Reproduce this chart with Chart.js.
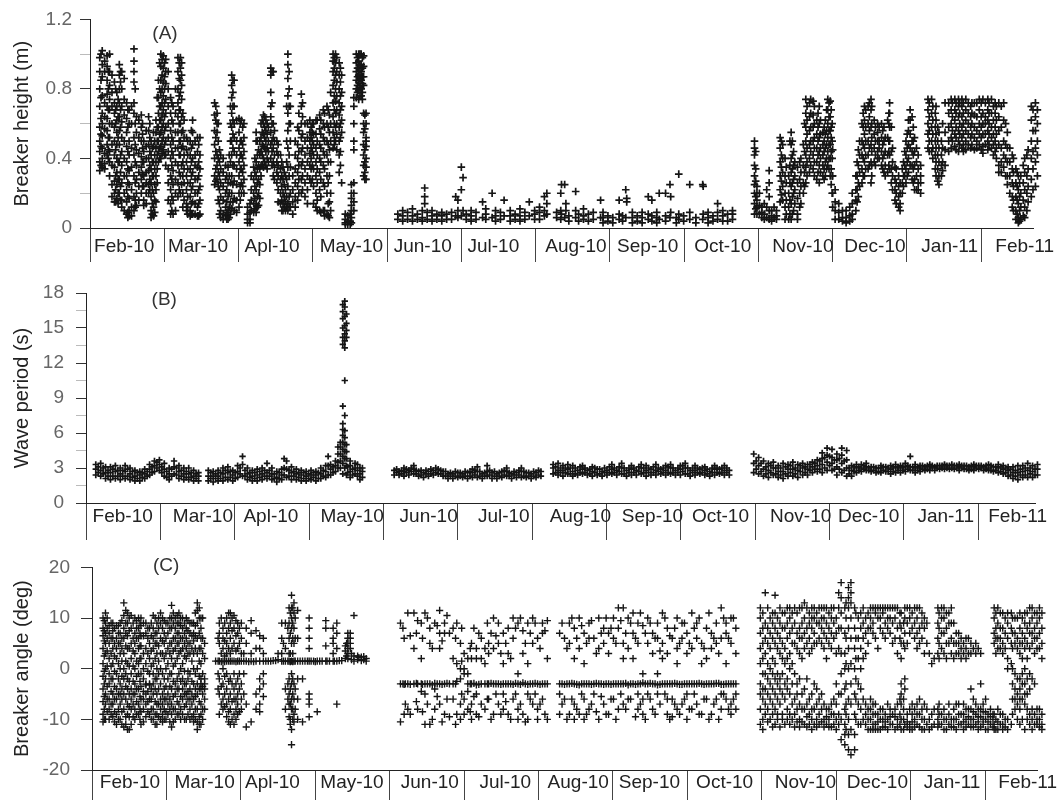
<!DOCTYPE html>
<html lang="en">
<head>
<meta charset="UTF-8">
<title>Breaker height, wave period and breaker angle</title>
<script src="https://cdn.jsdelivr.net/npm/chart.js"></script>
<style>
  body { margin: 0; background: #fff; }
  canvas { position: absolute; left: 0; }
</style>
</head>
<body>
<canvas id="panelA" width="1058" height="262" style="top:0px"></canvas>
<canvas id="panelB" width="1058" height="276" style="top:264px"></canvas>
<canvas id="panelC" width="1058" height="255" style="top:545px"></canvas>
<script>
// x values are days since the start of Feb-10, each row is [day, reading, reading, ...]
const monthLabels = ['Feb-10','Mar-10','Apl-10','May-10','Jun-10','Jul-10','Aug-10','Sep-10','Oct-10','Nov-10','Dec-10','Jan-11','Feb-11'];
const monthTicks = [0,30.4,60.8,91.2,121.6,152,182.4,212.8,243.2,273.6,304,334.4,364.8];
const labelDaysA = [14,44.2,74.5,107,136.2,165.1,198.9,228.3,259,291.8,321.3,351.9,382.6];
const labelDaysB = [15,47.8,75.6,108.8,140.1,170.8,202.1,231.6,259.4,292.2,320,351.5,380.9];
const labelDaysC = [15.5,46,73.7,106.2,138,168.8,198.6,227.7,258.4,291.4,320.8,351.3,382.2];

const heightTicks = [0,.2,.4,.6,.8,1,1.2];
const heightTickLabels = ['0','','0.4','','0.8','','1.2'];
const periodTicks = [0,1.5,3,4.5,6,7.5,9,10.5,12,13.5,15,16.5,18];
const periodTickLabels = ['0','','3','','6','','9','','12','','15','','18'];
const angleTicks = [-20,-10,0,10,20];
const angleTickLabels = ['-20','-10','0','10','20'];

const heightFebMay = [
[4,.98,.9,.8,.7,.58,.5,.44,.38,.33],[5,1.02,.94,.87,.76,.66,.6,.53,.46,.4,.35],[7,.99,.93,.85,.77,.7,.63,.56,.48,.42],
[8,1,.9,.82,.74,.68,.6,.52,.44,.38,.3],[10,.84,.72,.66,.58,.5,.42,.35,.27,.2,.15],[11,.78,.7,.62,.55,.48,.4,.32,.25,.17],
[12,.94,.88,.8,.72,.64,.56,.48,.38,.28,.2],[13,.9,.8,.7,.61,.52,.44,.36,.26,.16,.12],[15,.72,.63,.55,.47,.38,.3,.22,.15,.08],
[16,.68,.6,.5,.42,.33,.25,.17,.1,.07],[18,1.03,.96,.9,.84,.72,.66,.52,.42,.3,.18,.1],[19,.64,.55,.45,.36,.28,.2,.13],
[21,.65,.58,.5,.41,.35,.28,.2],[22,.5,.44,.38,.3,.24,.16,.13],[24,.64,.56,.48,.4,.33,.25,.2],[25,.5,.42,.34,.26,.18,.1,.06],
[26,.55,.47,.38,.3,.2,.12,.07],[27,.62,.55,.46,.38,.3,.22,.15],[28,.85,.75,.66,.58,.5,.44,.38],[29,1,.93,.85,.78,.7,.62,.55,.47,.4],
[30,.99,.92,.84,.76,.68,.6,.52,.45],[31,.97,.9,.83,.74,.66,.58,.5,.42,.36],[33,.75,.66,.56,.48,.4,.3,.22,.14,.08],
[34,.7,.6,.5,.42,.33,.25,.16,.08],[36,.98,.9,.8,.72,.64,.55,.46,.36,.26,.18],[37,.98,.92,.85,.78,.68,.6,.5,.42,.3,.2],
[38,.66,.56,.47,.38,.3,.2,.12],[39.5,.52,.45,.38,.3,.22,.14,.1],[41,.5,.42,.34,.26,.18,.1,.07],[42,.62,.55,.48,.4,.32,.24,.15,.08],
[44,.52,.44,.35,.28,.2,.12,.07],[45,.52,.42,.34,.24,.16,.08],
[51,.72,.65,.56,.48,.4,.3,.25],[52,.66,.6,.55,.42,.36,.28],[53,.45,.38,.3,.22,.14,.08],[54.5,.4,.32,.24,.16,.08,.05],
[56,.3,.22,.15,.09,.05],[57,.42,.3,.2,.12,.06],[58,.88,.82,.75,.66,.58,.5,.42,.3,.2,.11],[59,.85,.7,.6,.52,.44,.36,.27,.17,.1],
[61,.63,.55,.46,.38,.3,.2,.12],[62,.62,.5,.42,.34,.26,.2],[63,.6,.52,.44,.36,.28,.2],[64.5,.12,.08,.05,.03],[65.5,.14,.09,.05,.03],
[67,.35,.28,.2,.14,.09],[68,.55,.5,.38,.3,.22,.14,.09],[69,.45,.36,.28,.2,.13],[70,.6,.52,.44,.36,.3],[71,.65,.6,.54,.47,.4,.35],
[72,.62,.56,.5,.44,.36],[73,.58,.5,.44,.38],[74,.92,.88,.78,.7,.64,.55,.48,.4],[75,.9,.6,.52,.46,.38,.3],[76.5,.5,.44,.38,.32,.26],
[78,.42,.34,.28,.2,.14],[79,.35,.28,.2,.14,.1],[80,.3,.22,.15,.1],[81,1,.94,.86,.76,.66,.56,.46,.35,.24,.14,.1],[82,.7,.6,.5,.35,.2,.12],
[83,.3,.22,.15,.08],[85,.58,.48,.4,.32,.24,.16],[86.5,.77,.7,.6,.52,.44,.36,.28,.2],[88,.6,.5,.42,.34,.26,.18],[90,.62,.55,.5,.43,.36,.28],
[91,.6,.55,.5,.44,.36,.28],[92.5,.62,.54,.46,.38,.3,.2,.12],[94,.65,.57,.48,.4,.32,.22,.1],[95.5,.68,.6,.52,.44,.36,.26,.1],
[97,.7,.6,.5,.42,.3,.2,.08],[98,.65,.55,.45,.3,.15,.06],[99.5,1,.96,.9,.82,.72,.64,.55,.46],[100.5,1,.95,.88,.8,.73,.66,.58,.5],
[102,.95,.88,.8,.72,.65,.58,.5,.42,.32],[103,.88,.78,.7,.62,.55,.26],[104.5,.08,.05,.03,.02],[105.5,.07,.04,.02],[106.5,.08,.04,.02],
[107,.25,.2,.17,.13,.1,.06,.03],[108,.75,.7,.6,.5,.45,.26,.2,.15,.1],[109,1,.95,.9,.85,.8,.75],[110,1,.96,.92,.88,.84,.79,.74],
[111,1,.94,.9,.85,.8,.76],[112,.99,.93,.87,.82,.66,.6,.55,.48,.42,.36,.3],[113,.66,.6,.52,.5,.47,.4,.35,.28]
];
const heightFebMayExtra = [
[4.5,1,.85,.75,.63,.54,.47,.36],[6,.96,.9,.72,.64,.57,.43,.37,.34],[7.5,.9,.8,.68,.52,.45,.4],[9,.88,.78,.7,.6,.48,.36,.25,.18],[10.5,.8,.68,.6,.45,.3,.22,.15],
[11.5,.74,.64,.52,.38,.28,.2,.14],[12.5,.9,.84,.68,.58,.42,.32,.24,.16],[14,.86,.74,.65,.5,.4,.3,.2,.1],[15.5,.68,.58,.44,.34,.26,.18,.09,.06],[17,.7,.6,.46,.35,.22,.12,.07],
[18.5,.8,.6,.48,.38,.26,.16,.12],[20,.62,.52,.43,.32,.24,.16],[21.5,.6,.54,.46,.38,.31,.24],[23,.56,.47,.4,.32,.26,.2,.14],[24.5,.6,.52,.44,.36,.28,.22],[25.5,.46,.38,.3,.22,.14,.08],
[26.5,.5,.42,.34,.25,.16,.09],[27.5,.75,.58,.5,.42,.34,.26],[28.5,.95,.8,.7,.62,.54,.46,.4],[29.5,.97,.88,.8,.72,.65,.58,.5,.43],[30.5,.95,.87,.8,.72,.64,.56,.48,.42],
[32,.9,.8,.7,.6,.52,.44,.34,.26,.16],[33.5,.72,.62,.52,.44,.36,.28,.18,.1],[35,.8,.66,.55,.46,.38,.28,.2,.1],[36.5,.95,.86,.76,.68,.6,.5,.42,.32,.22],[37.5,.95,.88,.82,.74,.64,.55,.46,.36,.25],
[38.5,.62,.52,.42,.34,.26,.16],[40,.5,.42,.34,.26,.18,.12,.08],[41.5,.56,.46,.38,.3,.22,.14,.08],[43,.5,.42,.36,.28,.2,.14,.08],[44.5,.48,.38,.3,.22,.14,.07],
[51.5,.7,.62,.52,.44,.34,.27],[52.5,.6,.5,.4,.32,.24,.16],[53.5,.42,.34,.26,.18,.1,.06],[55.5,.36,.28,.2,.12,.07],[56.5,.35,.26,.18,.1,.05],[57.5,.7,.6,.5,.38,.26,.15,.08],
[58.5,.85,.78,.7,.62,.54,.46,.36,.25,.15],[60,.62,.5,.42,.34,.25,.16,.09],[61.5,.6,.5,.42,.34,.24,.16],[62.5,.58,.48,.4,.32,.24],[66,.3,.22,.16,.1],[67.5,.4,.32,.24,.17,.11],
[68.5,.5,.42,.34,.26,.18,.12],[69.5,.5,.42,.34,.25,.17],[70.5,.62,.55,.48,.42,.36],[71.5,.64,.58,.52,.46,.38],[72.5,.6,.54,.46,.4,.34],[74.5,.9,.72,.6,.5,.44,.36],[75.5,.56,.5,.42,.35,.28],
[77,.48,.42,.36,.3,.22,.15],[78.5,.38,.3,.24,.16,.1],[79.5,.32,.25,.18,.12],[80.5,.7,.5,.38,.28,.18,.12],[81.5,.9,.8,.7,.6,.42,.3,.18,.12],[84,.5,.42,.34,.26,.18,.12],[85.5,.66,.56,.44,.36,.28,.2],
[87,.72,.64,.54,.46,.38,.3,.22],[89,.6,.52,.46,.38,.3,.22,.14],[90.5,.58,.52,.46,.4,.34,.26],[91.5,.6,.54,.48,.42,.34,.24,.14],[93,.62,.5,.42,.34,.26,.16,.1],[94.5,.62,.54,.46,.38,.28,.18,.09],
[96,.66,.58,.5,.42,.34,.24,.1,.07],[97.5,.68,.58,.48,.38,.26,.14,.07],[98.5,.78,.6,.5,.38,.2,.1],[100,.98,.92,.85,.76,.68,.6,.52,.48],[101,.98,.9,.84,.76,.68,.6,.54,.45],[102.5,.92,.84,.76,.68,.6,.52,.44,.36],
[109.5,.98,.92,.87,.82,.78],[110.5,1,.94,.9,.86,.81,.76],[111.5,.98,.92,.87,.83,.78,.74],[112.5,.65,.57,.45,.38,.32,.28]
];
const heightJunOct = [
[126,.05,.08],[128,.04,.07,.1],[130,.05,.09],[132,.04,.07,.11],[134,.05,.08],[136,.04,.06,.1],[137,.23,.18,.14],[138,.05,.09],[140,.04,.07,.1],
[142,.05,.08],[144,.04,.07,.09],[146,.05,.08],[148,.05,.09],[149.7,.18,.07],[150.6,.16,.06,.1],[152,.35,.22,.07],[152.7,.29,.1],[154,.05,.08],
[156,.04,.07,.1],[158,.05,.09],[160.7,.15,.06],[162,.05,.08,.11],[164.6,.2,.06],[166,.04,.07,.1],[168,.05,.09],[169.5,.16,.07],[172,.04,.07,.1],
[174,.05,.08],[176,.04,.07,.11],[178,.05,.09],[179.8,.15,.07],[182,.05,.08,.1],[184,.05,.09,.12],[186,.18,.1,.07],[187,.2,.14,.08],
[191,.06,.09],[192.7,.2,.05,.1],[193,.25,.08],[194.3,.25,.06],[194.8,.14,.1],[196,.04,.07],[198.8,.21,.06,.1],[200,.04,.08],[202,.05,.07,.11],
[204,.04,.08],[206,.05,.09],[209,.16,.06],[210,.03,.06,.09],[212,.04,.07],[214,.03,.06],[216.6,.16,.05,.08],[218,.04,.07],[219.3,.22,.06],[219.7,.17,.15],
[222,.03,.06,.09],[224,.04,.07],[226,.03,.06,.09],[228.5,.18,.05,.08],[230,.16,.04,.07],[232,.03,.06,.09],[233,.2,.05],[235.6,.2,.04,.07],
[237.4,.25,.06],[237.7,.18,.09],[240,.03,.06],[241,.31,.05,.08],[243,.04,.07],[245.5,.25,.05,.09],[248,.03,.06],[250.8,.25,.05],[251,.24,.08],
[253,.03,.06,.09],[255,.04,.07],[256.9,.14,.05,.09],[259,.04,.07,.1],[261,.04,.08],[263,.05,.08,.1]
];
const heightNovFeb = [
[272,.5,.46,.42,.36,.3,.25,.2,.14,.08],[273,.24,.2,.16,.12,.08],[275,.12,.09,.06],[276,.14,.08,.05],[277,.22,.12,.06],[278,.33,.26,.18,.1,.05],
[279,.1,.07,.04],[281,.1,.07,.05],[282.5,.52,.46,.38,.3,.22,.15],[283.5,.48,.4,.32,.24,.16],[284.5,.4,.3,.2,.12,.05],[286,.3,.2,.12,.05],
[287,.55,.48,.4,.32,.24,.14,.05],[288,.44,.36,.28,.2,.1],[289.6,.35,.26,.17,.08,.05],[291,.4,.32,.24,.14],[292,.48,.36,.26,.2],[293,.74,.66,.58,.5,.42,.35,.26],
[294.5,.72,.64,.56,.48,.4,.32],[296,.73,.65,.58,.5,.42,.34],[297.5,.62,.54,.46,.38,.28],[298.5,.7,.6,.52,.44,.36,.26],[300,.55,.48,.42,.36,.3],
[301,.62,.54,.46,.38,.3],[302,.74,.68,.6,.52,.44,.36],[303,.73,.64,.56,.48,.4,.3],[303.8,.6,.5,.4,.3,.2],[305,.22,.15,.1,.05],[306.5,.14,.09,.05],
[308,.1,.06,.04],[309.5,.1,.06,.03],[311,.12,.07,.04],[312,.2,.14,.08,.05],[313.5,.3,.22,.16,.1],[314.5,.45,.36,.26,.18],[316,.6,.5,.42,.34,.26],
[317,.7,.62,.54,.46,.38,.3],[318.5,.7,.6,.5,.42,.34],[319.7,.74,.68,.58,.48,.38,.26],[321,.62,.54,.46,.38],[322.4,.6,.55,.5,.44,.4],[324,.6,.52,.44,.36],
[325,.58,.5,.42,.32],[326.5,.62,.52,.42,.32],[327.3,.72,.66,.58,.5,.42,.34],[328.5,.46,.38,.3,.22],[329.5,.35,.28,.22,.16],[331,.3,.24,.18,.12],
[331.6,.26,.2,.14,.1],[333,.38,.3,.24],[334,.5,.42,.34,.26],[335.7,.68,.62,.54,.46,.36],[337,.58,.5,.42,.34,.26],[338.3,.46,.38,.3,.22],[340,.36,.3,.26,.2],
[343,.74,.68,.6,.54,.46],[344.5,.74,.66,.58,.5,.44],[346.3,.7,.62,.54,.46,.38,.3],[347.5,.55,.46,.38,.3,.25],[348.5,.5,.42,.36,.3],[350,.72,.55,.45,.36],
[352.5,.74,.68,.6,.52,.46],[354,.74,.68,.62,.54,.47],[355.5,.74,.7,.64,.56,.5,.44],[356.9,.74,.7,.64,.58,.52,.46],[358.5,.74,.68,.62,.56,.5,.45],
[360.5,.7,.64,.58,.52,.46],[362,.72,.65,.58,.52,.45],[364,.74,.68,.6,.54,.48],[365.5,.74,.66,.6,.54,.47,.43],[367.5,.74,.68,.62,.56,.5,.45],
[369,.74,.66,.58,.52,.46],[370.5,.72,.66,.58,.5,.44],[372,.72,.64,.56,.48,.36,.32],[374,.72,.62,.5,.42,.35],[375.5,.55,.46,.38,.3,.25],[376.5,.46,.38,.3,.2],
[378,.4,.32,.24,.16,.1],[379,.34,.26,.18,.1,.05],[380,.3,.22,.14,.06,.03],[381,.3,.2,.12,.05],[382.6,.4,.32,.22,.12,.06],[384,.45,.34,.24,.15],
[385.3,.7,.62,.5,.4,.28,.18],[387,.72,.64,.56,.46,.38,.24],[388.5,.7,.62,.54,.46],[389.7,.72,.68,.6,.5,.4]
];
const heightNovFebExtra = [
[272.5,.44,.34,.27,.18,.11],[274,.2,.13,.08],[280,.12,.06],[283,.5,.42,.35,.27,.19],[285,.35,.26,.16,.08],[286.5,.5,.36,.26,.16,.08],[287.5,.5,.42,.34,.26,.18,.08],[288.5,.38,.3,.22,.14],
[290.5,.38,.28,.2,.12],[292.5,.6,.44,.32,.24],[293.5,.7,.62,.54,.46,.38,.3],[295,.74,.66,.58,.5,.44,.36],[296.5,.7,.6,.52,.46,.38,.3],[298,.66,.58,.5,.42,.32],[299,.62,.54,.46,.4,.32],
[300.5,.58,.5,.44,.34,.28],[301.5,.68,.56,.48,.4,.34],[302.5,.72,.64,.56,.48,.4,.34],[303.4,.68,.58,.52,.44,.34,.25],[304,.45,.3,.2,.12],[314,.38,.3,.22,.15],[315,.5,.42,.32,.24],
[316.5,.66,.58,.48,.4,.3],[317.5,.68,.58,.5,.42,.34],[319,.72,.64,.56,.46,.36],[320,.7,.6,.52,.44,.36,.3],[321.5,.58,.5,.42,.36],[323,.58,.5,.46,.4],[324.5,.56,.48,.4,.34],[325.5,.52,.44,.36,.3],
[327,.66,.6,.5,.44,.36],[328,.58,.44,.34,.26],[330,.34,.26,.2,.14],[332.5,.34,.26,.2],[333.5,.44,.36,.3],[334.5,.54,.46,.38,.3],[335,.62,.56,.48,.4,.32],[336.5,.64,.5,.44,.36,.28],[337.5,.52,.44,.36,.28,.22],
[339,.42,.34,.26,.22],[343.5,.72,.64,.56,.5,.44],[345,.7,.62,.54,.46,.4],[346,.66,.58,.5,.42,.34],[347,.58,.5,.42,.34,.27],[349,.6,.46,.38,.33],[351.5,.72,.66,.58,.5,.44],[353,.72,.64,.56,.5],
[354.5,.72,.66,.58,.52,.45],[356,.72,.66,.6,.54,.48],[357.5,.72,.66,.6,.54,.48,.44],[359.5,.72,.66,.6,.54,.48],[361,.72,.66,.6,.54,.48],[363,.72,.64,.56,.5,.46],[364.8,.72,.64,.58,.52,.45],
[366.5,.72,.64,.6,.54,.48],[368,.72,.66,.6,.54,.48],[369.8,.7,.62,.54,.48,.42],[371,.7,.62,.54,.46,.4],[373,.7,.58,.46,.38,.32],[374.8,.6,.48,.4,.3],[377.5,.42,.34,.26,.18,.12],[379.5,.32,.24,.16,.08],
[380.5,.26,.18,.1,.04],[382,.36,.26,.16,.07],[383.5,.42,.3,.2,.1],[386,.68,.56,.44,.34,.22],[387.8,.68,.6,.5,.42,.3],[389,.7,.64,.56,.48]
];

const periodFebMay = [
[4,2.4,2.9,3.3],[6,2.3,2.8,3.4],[8,2.1,2.6,3.1],[10,2,2.6,3.1],[12,2.1,2.7,3.2],[14,2,2.5,3],[16,2.1,2.7,3.2],[18,2,2.5,3],[20,1.9,2.3,2.8],
[22,1.9,2.4,2.7],[24,2.1,2.5,2.9],[26,2.4,2.9,3.3],[28,2.7,3.2,3.6],[30,2.8,3.3,3.7],[32,2.3,2.9,3.4],[34,2,2.5,3],[36,2.5,3.1,3.6],[38,2.1,2.7,3.2],
[40,2,2.5,3],[42,2,2.5,3],[44,1.9,2.3,2.8],[46,1.9,2.3,2.6],
[50,1.9,2.3,2.8],[52,1.8,2.3,2.7],[54,1.9,2.3,2.8],[56,1.9,2.5,3],[58,2,2.6,3.1],[60,1.9,2.4,2.8],[62,2.2,2.7,3.2],[64,2.3,3.3,4],[66,2,2.5,3],[68,1.9,2.3,2.8],
[70,1.9,2.4,2.9],[72,2,2.5,3],[74,2.1,2.6,3.4],[76,2,2.5,3],[78,1.8,2.2,2.7],[80,2,2.4,2.9],[81,2.4,3,3.8],[82,2.2,2.9,3.6],[84,2,2.6,3.1],[86,2,2.5,2.9],
[88,1.9,2.4,2.8],[90,1.9,2.3,2.7],[92,2,2.4,2.8],[94,1.9,2.4,2.7],[96,2.1,2.5,3],[98,2.2,2.7,3.2],[99,2.4,3.2,4],[100,2.4,2.9,3.3],[102,2.7,3.2,3.6],
[103,3,3.5,4.2,4.8],[104,3,3.6,4.2,4.8,5.2],[105,2.5,3.4,4,4.6,5.2,5.8,6.3,6.8,8.3,13.6,14.2,15,15.8,16.4,17],[105.8,3,3.8,4.4,5,5.6,6.2,7.5,10.5,13.3,13.9,14.5,15.2,16,16.8,17.3],
[106.5,2.4,3.2,3.8,4.4,5,14.2,14.8,15.4,16.2],[108,2.2,2.7,3.2,3.6],[110,2.5,3,3.4],[111,2.3,2.8,3.3],[112,2,2.5,3],[113,2.2,2.7,3]
];
const periodExtra = [
[5,2.6,3.1],[7,2.5,3],[9,2.3,2.8],[11,2.3,2.9],[13,2.3,2.8],[15,2.3,2.8],[17,2.3,2.9],[19,2.2,2.7],[21,2.1,2.6],[23,2.2,2.6],[25,2.3,2.7],[27,2.6,3.1],[29,3,3.5],[31,2.6,3.1],[33,2.2,2.7],[35,2.3,2.9],
[37,2.4,3],[39,2.3,2.8],[41,2.2,2.7],[43,2.2,2.6],[45,2.1,2.5],[51,2.1,2.6],[53,2.1,2.5],[55,2.1,2.6],[57,2.2,2.8],[59,2.2,2.7],[61,2.1,2.6],[63,2.5,3],[65,2.3,2.8],[67,2.2,2.6],[69,2.1,2.6],[71,2.2,2.7],
[73,2.3,2.8],[75,2.3,2.8],[77,2.1,2.5],[79,2.1,2.6],[83,2.3,2.8],[85,2.3,2.7],[87,2.2,2.6],[89,2.1,2.6],[91,2.1,2.5],[93,2.2,2.6],[95,2.1,2.6],[97,2.3,2.8],[101,2.6,3.1],[107,2.6,3.1],[109,2.4,2.9],
[127,2.6,2.9],[129,2.5,2.8],[131,2.6,2.9],[133,2.7,3],[135,2.5,2.8],[137,2.4,2.8],[139,2.5,2.8],[141,2.5,2.9],[143,2.6,3],[145,2.5,2.8],[147,2.3,2.7],[149,2.3,2.6],[151,2.3,2.7],[153,2.3,2.6],[155,2.3,2.7],
[157,2.3,2.7],[159,2.4,2.8],[161,2.3,2.7],[163,2.3,2.6],[165,2.4,2.8],[167,2.3,2.7],[169,2.3,2.6],[171,2.4,2.8],[173,2.3,2.6],[175,2.4,2.7],[177,2.4,2.8],[179,2.3,2.7],[181,2.3,2.6],[183,2.3,2.7],[185,2.4,2.8],
[192,2.6,3.1],[194,2.6,3],[196,2.6,3],[198,2.5,3],[200,2.5,3],[202,2.6,3.1],[204,2.6,3],[206,2.5,2.9],[208,2.6,3],[210,2.5,2.9],[212,2.6,3],[214,2.6,3.1],[216,2.6,3],[218,2.7,3.1],[220,2.5,3],[222,2.6,3],
[224,2.6,3],[226,2.7,3.1],[228,2.6,3],[230,2.6,3],[232,2.6,3.1],[234,2.7,3],[236,2.6,3],[238,2.6,3.1],[240,2.6,3],[242,2.6,3],[244,2.7,3.2],[246,2.5,3],[248,2.6,3],[250,2.6,3],[252,2.6,3],[254,2.5,2.9],[256,2.6,3],[258,2.6,3],[260,2.6,3],[262,2.6,3],
[274,2.9,3.6],[276,2.7,3.4],[278,2.5,3.1],[280,2.6,3.2],[282,2.5,3],[284,2.4,3],[286,2.5,3.1],[288,2.6,3.2],[290,2.5,3],[292,2.7,3.2],[294,2.6,3.1],[296,2.8,3.3],[298,2.9,3.4],[300,2.9,3.6],[302,3,3.9],[304,3.2,4],[306,2.9,3.7],
[308,2.9,3.8],[310,2.8,3.6],[312,2.5,3],[314,2.7,3.1],[316,2.8,3.1],[318,2.9,3.2],[320,2.8,3],[322,2.8,3.1],[324,2.7,3],[326,2.8,3.1],[328,2.7,3],[330,2.7,3.1],[332,2.8,3.1],[334,2.8,3.1],[336,2.9,3.2],[338,2.8,3.1],[340,2.8,3.1],
[342,2.9,3.2],[344,2.9,3.2],[346,3,3.2],[348,3,3.2],[350,3,3.2],[352,3,3.2],[354,3,3.3],[356,3,3.2],[358,3,3.2],[360,2.9,3.2],[362,2.9,3.2],[364,3,3.2],[366,3,3.2],[368,2.9,3.2],[370,2.8,3.2],[372,2.8,3.1],[374,2.7,3.1],
[376,2.6,3],[378,2.4,2.9],[380,2.3,2.8],[382,2.4,2.9],[384,2.4,3],[386,2.5,3],[388,2.4,2.9]
];
const periodJunOct = [
[126,2.4,2.8],[128,2.4,2.7],[130,2.3,2.7,3],[132,2.4,2.8],[134,2.5,2.9,3.2],[136,2.3,2.7],[138,2.2,2.6],[140,2.3,2.7],[142,2.4,2.8],[144,2.5,2.9],
[146,2.3,2.7],[148,2.1,2.5],[150,2.1,2.5],[152,2.2,2.6],[154,2.2,2.5],[156,2.1,2.6],[158,2.2,2.6,2.9],[160,2.2,2.7,3.1],[162,2.1,2.5],[164,2.3,2.7,3.2],
[166,2.1,2.6],[168,2.1,2.5],[170,2.2,2.7],[172,2.3,2.7,3],[174,2.1,2.5],[176,2.2,2.6],[178,2.2,2.7,3],[180,2.2,2.6],[182,2.1,2.5],[184,2.2,2.6],[186,2.3,2.7],
[191,2.5,3,3.3],[193,2.4,2.8,3.4],[195,2.3,2.8,3.2],[197,2.5,2.9,3.3],[199,2.3,2.7,3.2],[201,2.4,2.8],[203,2.5,2.9,3.2],[205,2.4,2.8],[207,2.3,2.7,3.1],
[209,2.4,2.9],[211,2.3,2.7],[213,2.4,2.8],[215,2.5,2.9,3.3],[217,2.4,2.8],[219,2.5,3,3.4],[221,2.3,2.8],[223,2.4,2.9,3.2],[225,2.4,2.8],[227,2.5,3,3.3],
[229,2.3,2.8,3.2],[231,2.4,2.9],[233,2.4,2.8,3.3],[235,2.5,2.9],[237,2.4,2.8,3.2],[239,2.5,3,3.3],[241,2.4,2.8],[243,2.4,2.9,3.2],[245,2.5,3,3.4],
[247,2.3,2.8],[249,2.4,2.8,3.2],[251,2.5,2.9],[253,2.4,2.8,3.1],[255,2.3,2.7],[257,2.4,2.9,3.2],[259,2.5,2.9],[261,2.4,2.8,3.2],[263,2.4,2.8]
];
const periodNovFeb = [
[273,2.6,3.4,4.2],[275,2.5,3.2,3.9],[277,2.3,2.9,3.6],[279,2.2,2.8,3.4],[281,2.4,3,3.5],[283,2.2,2.7,3.2],[285,2.1,2.7,3.4],[287,2.3,2.9,3.3],[289,2.3,2.9,3.5],
[291,2.2,2.8,3.3],[293,2.4,3,3.4],[295,2.4,2.9,3.3],[297,2.6,3.1,3.5],[299,2.7,3.2,3.7],[301,2.6,3.3,3.8,4.3],[303,2.8,3.5,4.1,4.7],[305,2.8,3.4,3.9,4.6],
[307,2.4,3.1,3.7,4.2],[309,2.6,3.4,4.1,4.7],[311,2.3,3,3.7,4.5],[313,2.3,2.8,3.2],[315,2.6,3,3.3],[317,2.7,3,3.3],[319,2.8,3.1,3.4],[321,2.7,3.1],[323,2.6,3],
[325,2.6,3,3.2],[327,2.7,3.1],[329,2.5,2.9,3.2],[331,2.6,3,3.3],[333,2.6,3,3.2],[335,2.7,3.1,3.4],[337,2.8,3.1,4],[339,2.6,3,3.3],[341,2.7,3,3.2],[343,2.8,3.1],
[345,2.8,3.1,3.3],[347,2.8,3.1],[349,2.9,3.2],[351,2.9,3.2,3.3],[353,2.9,3.2],[355,2.9,3.2],[357,2.8,3.1,3.3],[359,2.9,3.2],[361,2.8,3.1],[363,2.8,3.1,3.3],
[365,2.9,3.2],[367,2.8,3.1],[369,2.8,3,3.3],[371,2.7,3.1],[373,2.6,3,3.3],[375,2.5,2.9,3.2],[377,2.3,2.8,3.1],[379,2.1,2.6,3.1],[381,2,2.6,3.2],[383,2.2,2.7,3.2],
[385,2.2,2.8,3.4],[387,2.2,2.7,3.2],[389,2.4,2.9,3.3]
];

const angleFebMay = [
[4.5,10,8,6.5,4,1,-1.5,-4,-6.5,-9,-10.5],[5.5,11,9,7,5,3,0,-2,-5,-7,-10],[7,8.5,7,5,2,-1,-3,-6,-8,-10],[8.5,9,7.5,6,4,1,-2,-5,-7,-9.5],[10,8.5,6,4,2,-1,-4,-6,-9,-11],
[11.5,9,7,5,3,0,-3,-5,-7,-10],[13,13,10.5,8,6,3,0,-2,-5,-8,-11.5],[14.5,11,9,6.5,4,1,-2,-4,-7,-9,-12],[16,10.5,8,5,2,-1,-4,-6,-8,-11],[17.5,10,7,5,3,0,-3,-5,-8,-10],
[19,10,8,6,4,1,-1,-4,-7,-9],[20,10,8.5,6.5,4.5,2,-1,-3.5,-6,-8.5,-11],[22,9,7,4,1,-3,-3.2,-5,-7,-9.5],[23.5,8,5,2,-1,-3,-3.2,-6,-9],[25,10.5,8,6,4,1,-1,-3,-5,-8,-10],
[26.5,9,7,5,3,0,-2,-5,-7,-9,-11],[28,11,9,6,3,0,-3,-6,-8,-10],[29.5,9.5,7,5,2,-2,-4,-6,-8,-10],[31,9,7,4,1,-2,-5,-7,-9],[32.5,12.5,10,8,5,2,-1,-4,-7,-9,-11.5],
[34,10,8,6,4,1,-3,-5,-8,-10],[35.5,11,9,7,5,3,-1,-4,-7,-9],[37,10,8,6,4,1,-2,-4,-6,-9],[38.5,10,8,6,4,2,-3,-5,-7,-10],[40,9,7,5,3,-1,-4,-6,-8,-10],
[41.5,9,7,5.5,3,0,-3,-6,-9,-10.5],[43,13,11.5,9,6,3,0,-3,-5,-8,-10.5,-12],[44.5,10,8,6,4,1,-2,-3,-4,-7,-9,-11],[46,5,2,-2,-3,-4,-6,-8]
];
const angleFebMayExtra = [
[5,9.5,7.5,5.5,2.5,-.5,-3,-5.5,-8,-10],[6.2,10,8,6,3.5,.5,-3.5,-6,-8.5],[7.8,9,6,3,.5,-2,-4.5,-7,-9],[9.2,8,5,2.5,-.5,-3.5,-6,-8.5,-10.5],[10.8,8.5,7,5,1,-2,-5,-8,-10],
[12.2,9.5,6,4,1.5,-1.5,-4,-6,-8.5,-11],[13.8,11.5,9,7,4.5,1.5,-1,-3.5,-6,-9.5,-11],[15.2,10,7.5,4,.5,-2.5,-5,-7.5,-9.5,-12],[16.8,9,6,3.5,.5,-2.5,-5,-7,-9.5],[18.2,9.5,8,6,1.5,-1.5,-4,-6.5,-9],
[19.6,9,7,4.5,2,-2.5,-5.5,-8,-10],[21,9,6.5,3,0,-2,-4.5,-6,-8,-10.5],[22.8,8,6,3,-.5,-4.5,-6.5,-8.5],[24.2,9,6.5,3.5,.5,-4,-6,-8,-10],[25.8,10,7,5,2,-2,-4,-6.5,-9,-11],
[27.2,10,8,4.5,1.5,-1,-4,-7,-9.5],[28.8,10,8,5.5,3,-1,-5,-7,-9,-10.5],[30.2,9,6,3,0,-3.5,-6,-8.5,-10],[31.8,10,8,5,3,-1,-3.5,-6,-8,-10.5],[33.2,11,9,6,3.5,.5,-2.5,-5.5,-8,-10.5],
[34.8,10.5,9,7,5,2,-2,-4,-6.5,-9],[36.2,10,8.5,6,3.5,0,-2.5,-5.5,-8,-10],[37.8,9,7,5,2.5,-.5,-3,-5,-7.5,-10],[39.2,9.5,7.5,5,3,-.5,-2,-4.5,-6,-9],[40.8,9,6.5,4,1.5,-2.5,-5,-7,-9.5],
[42.2,11,8.5,6.5,4,-1,-4,-5.5,-8,-10],[43.8,12,10,7,4,1.5,-1.5,-4,-6.5,-9.5,-11],[45.2,10,6,3,-1,-3.5,-5,-8,-10]
];
const angleMayEnd = [
[50.5,1.5],[52,9,7,5,1.5,-2,-5,-9],[53.5,8,6,4,1.5,0,-3,-6,-8],[55,10,7,5,3,1.5,-1,-4,-7,-9.5],[56.5,11,9,6,3,1.5,-2,-5,-8,-11],[58,10.5,8,5,1.5,-1,-4,-6,-9,-11],
[59.5,9,7,4,1.5,-2,-5,-7,-9],[61,9,6,3,1.5,-3,-6,-8],[63,1.5,8,5,-7,-11.5],[65,1.5,9.5,7,3,-10.5],[67,1.5,7.5,4,-5,-8],[68.5,1.5,6.5,4,-2,-4,-7,-8.5],[70,1.5,6,3,-1,-3,-5.5],
[72,1.5],[74,1.6],[76,1.8,3],[77.5,1.5,9,6,3],[79,1.5,9,4,-4,-8],[80.5,12,9,6,3,1.5,-2,-5,-7,-9.5],[81.5,14.5,12,10,8,5,1.5,-1,-3,-6,-8,-12,-15],[82.5,13,11,8,5,1.5,-3,-6,-9,-10.5],
[84,11.5,6,1.5,-2,-6,-10],[86,1.5,-2,-10.5],[88,1.5],[88.7,10,8,6,4,1.5,-5,-6,-7,-9.5],[90.5,1.5],[92,1.5,-8.5],[94,1.5],[95.5,9.5,8,1.5,4.5],[97,1.5],[98.5,8,6,5,3,1.5],[100,9,7,4,1.5,-7],
[102,1.6],[103.5,2,3.5,4.5],[104.5,7,6,5,4,3,2],[105.5,7,6,5,4],[107,10.5,2.5,1.5],[108.5,2.5,1.8],[110,2.3,1.6],[112,2,1.5],
[51.5,1.5,6,-1,-4],[52.8,10,3,1.4,-3.5,-7],[54.2,9,5.5,2.5,1.4,-1.5,-5,-7.5],[55.8,11,8,4,1.5,-2.5,-6,-8.5,-10.5],[57.2,10,7.5,4,1.5,-3,-6.5,-10],[58.8,9.5,6.5,3.5,1.4,-3,-6,-8,-10],[60.2,8,5,1.5,-1,-4,-8.5],
[62,1.5,3,-1,-5],[64,1.4],[66,1.4],[71,1.5],[73,1.5],[75,1.6],[78.2,1.5,5],[80,8,1.5,-3,-6],[81,11,7,3,1.4,-4,-7,-10,-11],[82,12,9,6,3,1.4,-2,-5,-8,-10],[83,10,6,1.5,-4,-8],[85,1.5],[87,1.5],[89.5,1.5],[91.2,1.4],[93,1.5],[96,1.5],[99,1.5],[101,1.6],[104,2.5,5],[106,1.8,3],[109,2.2],[111,1.8,2.4]
];
const angleJunOct = [
[126,9,-3,-10.5],[127,8,-3],[128,-3,-7],[129,11,-3,-8],[130,6.5,-3.1,-9],[131.5,11,4,-3],[133,9.5,-3,-8],[134.5,9,2,-3,-4.5],[136,11,-3,-5,-11],[138,8,5,-3,-11],[140,9,-2.9,-4,-8],
[142,11.5,7,4,-3,-7],[144,9,7,-3,-9],[146,7,-3,-9.5],[147.5,8,2,-3,-6],[149,9,1,-2.5,-9],[150.5,5,0,-2,-7,-10],[152,3,0,-1,-6,-9],[153.5,2,-1,-3,-4.5,-8],[155,5,2,-3,-7,-10],
[157,4,2,-3.2,-5,-9],[159,6,2,-3,-7],[160.5,4,1,-3,-8],[162,5,3,-3,-6],[164,10,4,-3,-9],[166,9,5,-3,-7],[168,7,1,-3,-5,-8],[170,8,3,-3,-9],[172,10,6,-3.1,-6],[174,9,-1,-3,-8,-10],
[176,7.5,3,-2.8,-9],[178,9,1,-3.1,-5,-10],[180,10,5,-3,-7],[182,6,-3,-8,-10],[184,9,7,-3,-6],[186,9.5,2,-3,-10],
[191,7,-3,-5,-9],[193,6,-3.1,-6],[195,9,5,-3,-9],[197,8,2,-3,-7,-10],[199,10,4,-3.2,-9],[201,7,1,-3,-6,-10],[203,9,6,-3,-8],[205,6,-3,-5],[207,10,4,-3,-10],[209,8,5,-3.1,-7],
[211,7,3,-3,-9],[213,10,6,-3,-6],[215,12,8,-3,-8],[217,12,5,2,-3,-7],[219,10,4,-3.2,-6],[221,11,7,2,-3],[223,9,5,-3,-5,-8],[225,8.5,-1,-2.8,-6,-9],[227,10,5,-3,-5],[229,7,3,-3,-8],
[231,9,6,-1,-3.2,-5],[233,11,5,2,-3],[235,8,3,-3,-6,-9],[237,6,-3,-6,-9.5],[239,10,4,1,-3,-8],[241,9,6,-3.1,-7],[243,7,3,-3,-5,-10],[245,11,4,-3,-8],[247,9,6,-3,-7],[249,5,1,-3,-9],
[251,8,2,-3,-6],[253,7,4,-3,-9],[255,9,5,-2.9,-6],[257,12,6,-3.1,-5,-8],[259,9,7,1,-3,-6],[261,10,5,-3,-7,-9],[263,8,3,-3,-5,-8],
[127.5,6,-3.1,-9],[132.5,7,-2.9,-6.5],[135,6,-3.1,-8.5],[137,10,-3,-7],[139,4,-3.2,-10],[141,8.5,-3,-5.5],[143,5.5,-3.1,-10.5],[145,10.5,-2.9,-6],[148.5,6,-3,-11],[151,8,1.5,-5],[154.5,4,-3,-8.5],[156,8,-2.9,-5.5],
[158,7,-3.1,-9.5],[161.5,9,-3,-6],[163,7,-2.9,-10],[165,6.5,-3,-5],[167,3,-3.1,-9],[169,5,-3,-6.5],[171,2,-3,-10],[173,8,-2.9,-5],[175,10,-3.1,-7],[177,5,-3,-10.5],[179,7,-3,-6],[181,9,-2.9,-5],[183,4,-3.1,-7],[185,7.5,-3,-9],
[192,9,-3,-7],[194,4,-3,-10],[196,10,-2.9,-6],[198,6,-3.1,-8],[200,8.5,-3,-5],[202,5,-3,-9],[204,9.5,-3.1,-7],[206,3,-2.9,-8.5],[208,7,-3,-5.5],[210,10,-3,-9],[212,8,-3.1,-6],[214,5,-3,-10],[216,9.5,-3,-5],[218,7,-2.9,-8],
[220,9,-3,-6],[222,6,-3.1,-9.5],[224,11,-3,-7],[226,7,-3,-10],[228,9,-2.9,-6],[230,6,-3,-9],[232,3.5,-3.1,-7],[234,10,-3,-5],[236,6.5,-3,-10],[238,8,-2.9,-7],[240,5,-3.1,-9],[242,9,-3,-6],[244,5,-3,-8],[246,8,-3,-5],[248,10,-2.9,-9],
[250,4,-3.1,-6],[252,11,-3,-10],[254,6,-3,-7],[256,3,-2.9,-10],[258,10,-3.1,-5],[260,6,-3,-8],[262,10,-3,-6]
];
const angleNovFeb = [
[273,12,10,7,4,1,-3,-5,-8,-11],[275,15,9,6,3,-1,-4,-7,-9],[277,10,7,4,0,-3,-6,-10],[279,14.5,11,8,5,1,-2,-5,-8,-11],[281,12,9,6,3,-2,-4,-7,-11.5],[283,11,8,4,1,-3,-6,-11],
[285,12,10,7,3,0,-5,-9,-11],[287,12,9,5,-1,-6,-9,-11.5],[289,12,8,6,3,-2,-7,-10,-11.5],[291,13,10,7,4,-4,-8,-11],[293,11,9,6,3,-6,-9,-11],[295,12,10,7,5,-3,-8,-11],
[297,12,9,6,-6,-9,-11],[299,12,10,7,4,-7,-10,-11.5],[301,11,8,5,-8,-10,-11.5],[303,12,9,6,-6,-9,-11],[305,15,12,8,4,-5,-9,-11],[306,17,14,11,8,3,-1,-5,-10,-14],[307.5,12,7,3,0,-4,-8,-11,-13,-15],
[309,16,14,12,8,4,0,-6,-10,-13,-16],[310,17,15,13,10,6,1,-3,-7,-12,-17],[311.5,12,8,4,0,-5,-9,-13,-16],[313,10,6,2,-3,-7,-11],[315,12,9,6,2,-6,-10],[317,11,8,5,-8,-10,-12],
[319,12,9,7,-7,-9,-11,-12],[321,12,10,4,-9,-10.5,-12],[323,12,11,7,-8,-10,-11.5],[325,12,10,8,-7,-10,-12],[327,12,9,5,-9,-11],[329,12,8,3,-7,-10,-11.5],[330.5,11,8,5,2,-3,-5,-7,-10,-12],
[332,12,10,7,4,-2,-4,-11],[334,12,10,7,-8,-11,-12],[336,12,9,6,-8,-10,-11.5],[338,12,8,5,-6,-9,-11.5],[340,10,8,3,-7,-10,-12],[342,3,-10,-12],[344,2,-8,-11],[345.5,12,9,6,3,-8,-10,-11.5],
[347,12,10,7,4,-9,-11],[349,11,8,5,2,-10,-12],[351,12,9,6,3,-10,-11.5],[353,7,5,3,-7,-10,-12],[355,6,4,2,-9,-11],[357,6,4,2,-8,-10,-11.5],[359,5,3,-4,-8,-10,-11.5],[361,5,3,-7,-9,-11],
[363,3,-3,-8,-9.5,-11.5],[365,-6,-8.5,-10,-12],[367,-8,-9.5,-11],[368.5,12,10,7,5,-9,-11,-12],[370,12,9,6,4,-8,-10.5,-12],[372,11,8,5,3,-9,-11,-12],[374,11,9,6,2,0,-10,-12],
[375.5,11,8,5,1,-11],[377,10,7,5,-1,-4,-6,-8],[379,11,8,5,3,-2,-4,-6,-8,-11],[381,11,9,6,4,0,-3,-5,-7,-12],[383,12,9,7,4,-1,-4,-9,-11],[385,11,8,6,3,-3,-9,-11],[387,12,10,7,4,-8,-10,-11.5],
[389,12,9,6,4,-7,-9,-11],[390.5,12,9,6,-8,-10,-12]
];
const angleNovFebExtra = [
[274,11,8,5,2,-1,-4,-6,-10,-12],[276,12,8,5,1,-2,-5,-8,-10.5],[278,11,9,6,2,-1,-4,-7,-9,-11.5],[280,10,7,4,-1,-3,-6,-9,-10],[282,11,8,5,2,-1,-5,-9,-10],[284,12,9,6,2,-2,-4,-8,-10],[286,11,8,5,1,-3,-7,-10],
[288,11,7,4,-3,-5,-8,-10.5],[290,12,9,6,2,-5,-8,-10.5],[292,12,8,5,-2,-7,-9.5,-11.5],[294,12,10,8,4,-5,-8,-10,-12],[296,11,9,5,-4,-7,-10,-11.5],[298,12,10,8,5,-5,-8,-10.5],[300,12,9,6,2,-8,-9.5,-11],[302,12,10,7,4,-7,-9,-11.5],
[304,10,7,3,-3,-7,-10,-12],[308,13,10,6,1,-3,-7,-9,-12],[312,11,6,2,-2,-6,-10],[314,11,8,4,0,-4,-8,-11],[316,10,7,3,-7,-9,-11],[318,12,10,8,-6,-8,-10,-12],[320,12,11,6,-7,-9,-11,-12],[322,12,10,8,-8,-10,-12],
[324,12,9,6,-9,-10.5,-11.5],[326,12,10,7,-8,-9.5,-11],[328,12,10,6,-8,-9.5,-12],[330,11,9,6,-6,-9,-11],[331.5,9,5,-6,-8,-10,-12],[333,12,9,5,-9,-10.5,-11.5],[335,11,8,-7,-9,-10.5,-12],[337,12,10,7,4,-7,-9,-11],
[339,11,9,6,-8,-10,-12],[341,9,5,-8,-11],[343,1,-9,-11.5],[346,11,8,5,2,-7,-9,-11],[348,12,10,7,3,-8,-10,-12],[350,11,9,5,-7,-9,-11],[352,9,5,2,-8,-10,-11.5],[354,7,5,3,-7,-9,-11],[356,5,3,-7,-9,-10.5,-12],
[358,6,3,-8,-9.5,-11],[360,4,-6,-8.5,-10,-11.5],[362,4,-8,-9.5,-10.5,-12],[364,-7,-8.5,-10,-11],[366,-9,-10.5,-12],[368,-9,-10,-11.5],[369.2,11,8,6,3,-10,-12],[371,11,8,6,4,-9,-11],[373,10,7,4,-10,-11.5],
[376,10,7,4,0,-3,-6,-9],[378,10,6,4,-2,-5,-7,-10],[380,10,7,5,2,-1,-3,-6,-10],[382,11,8,5,2,-2,-5,-8,-10],[384,12,10,7,5,-2,-8,-10,-12],[386,11,9,6,4,-8,-10,-11],[388,11,8,5,2,-9,-11,-12],[390,11,8,5,-9,-11]
];

const fontFamily = "'Liberation Sans', Arial, sans-serif";

function toPoints(rows) {
    return rows.flatMap(row => row.slice(1).map(y => ({ x: row[0], y: y })));
}

// puts (A), (B), (C) inside each panel
const panelLetter = {
    id: 'panelLetter',
    afterDraw(chart, args, opts) {
        const c = chart.ctx;
        c.save();
        c.font = '19px ' + fontFamily;
        c.fillStyle = '#333';
        c.textAlign = 'center';
        c.textBaseline = 'middle';
        c.fillText(opts.text, chart.scales.x.getPixelForValue(opts.day), chart.scales.y.getPixelForValue(opts.value));
        c.restore();
    }
};

function makePanel(id, cfg) {
    new Chart(document.getElementById(id), {
        type: 'scatter',
        data: {
            datasets: [{
                // the last rows run past the axis end, so the sections go in reverse order and no clip
                data: cfg.sections.slice().reverse().flatMap(toPoints),
                pointStyle: 'cross',
                pointRadius: cfg.mark,
                pointBorderWidth: cfg.markWidth,
                pointBorderColor: '#151515',
                showLine: false,
                clip: false
            }]
        },
        options: {
            responsive: false,
            animation: false,
            layout: { padding: { top: cfg.top, right: 1058 - cfg.right, left: 0, bottom: 0 } },
            plugins: {
                legend: { display: false },
                tooltip: { enabled: false },
                panelLetter: cfg.letter
            },
            scales: {
                x: {
                    type: 'linear', position: 'bottom',
                    min: 0, max: cfg.maxDay,
                    afterBuildTicks: s => { s.ticks = monthTicks.map(v => ({ value: v })); },
                    afterFit: s => { s.height = 0; },
                    ticks: { display: false },
                    grid: { drawOnChartArea: false, tickLength: cfg.below, tickColor: '#444', tickWidth: 1 },
                    border: { color: '#222', width: 1 }
                },
                x2: {
                    type: 'linear', position: 'bottom', weight: 1,
                    min: 0, max: cfg.maxDay,
                    afterBuildTicks: s => { s.ticks = cfg.labelDays.map(v => ({ value: v })); },
                    afterFit: s => { s.height = cfg.below; },
                    ticks: {
                        autoSkip: false, maxRotation: 0, padding: cfg.labelPad,
                        color: '#222', font: { family: fontFamily, size: 19 },
                        callback: (v, i) => monthLabels[i]
                    },
                    grid: { display: false },
                    border: { display: false }
                },
                y: {
                    min: cfg.yTicks[0], max: cfg.yTicks[cfg.yTicks.length - 1],
                    afterBuildTicks: s => { s.ticks = cfg.yTicks.map(v => ({ value: v })); },
                    afterFit: s => { s.width = cfg.left; },
                    ticks: {
                        autoSkip: false, padding: cfg.tickPad,
                        color: '#666', font: { family: fontFamily, size: 19 },
                        callback: (v, i) => cfg.yLabels[i]
                    },
                    grid: {
                        drawOnChartArea: false, tickLength: cfg.tickLen, tickWidth: 1,
                        tickColor: c => cfg.yLabels[c.index] === '' ? '#bbb' : '#333'
                    },
                    border: { color: '#222', width: 1 },
                    title: {
                        display: true, text: cfg.title, color: '#222',
                        font: { family: fontFamily, size: 20 },
                        padding: { top: 10, bottom: 0 }
                    }
                }
            }
        },
        plugins: [panelLetter]
    });
}

makePanel('panelA', {
    sections: [heightFebMay, heightFebMayExtra, heightJunOct, heightNovFeb, heightNovFebExtra],
    left: 90, right: 1033, top: 18, below: 34, maxDay: 386, labelPad: -1, tickLen: 10, tickPad: 8, mark: 3.8, markWidth: 1.7,
    labelDays: labelDaysA, yTicks: heightTicks, yLabels: heightTickLabels,
    title: 'Breaker height (m)',
    letter: { text: '(A)', day: 30.7, value: 1.12 }
});
makePanel('panelB', {
    sections: [periodFebMay, periodExtra, periodJunOct, periodNovFeb],
    left: 86, right: 1035, top: 29, below: 37, maxDay: 388, labelPad: -6, tickLen: 10, tickPad: 12, mark: 3.2, markWidth: 1.7,
    labelDays: labelDaysB, yTicks: periodTicks, yLabels: periodTickLabels,
    title: 'Wave period (s)',
    letter: { text: '(B)', day: 32, value: 17.4 }
});
makePanel('panelC', {
    sections: [angleFebMay, angleFebMayExtra, angleMayEnd, angleJunOct, angleNovFeb, angleNovFebExtra],
    left: 92, right: 1037, top: 16, below: 30, maxDay: 386, labelPad: -7, tickLen: 11, tickPad: 11, mark: 3.6, markWidth: 1.4,
    labelDays: labelDaysC, yTicks: angleTicks, yLabels: angleTickLabels,
    title: 'Breaker angle (deg)',
    letter: { text: '(C)', day: 30.3, value: 20.4 }
});
</script>
</body>
</html>
